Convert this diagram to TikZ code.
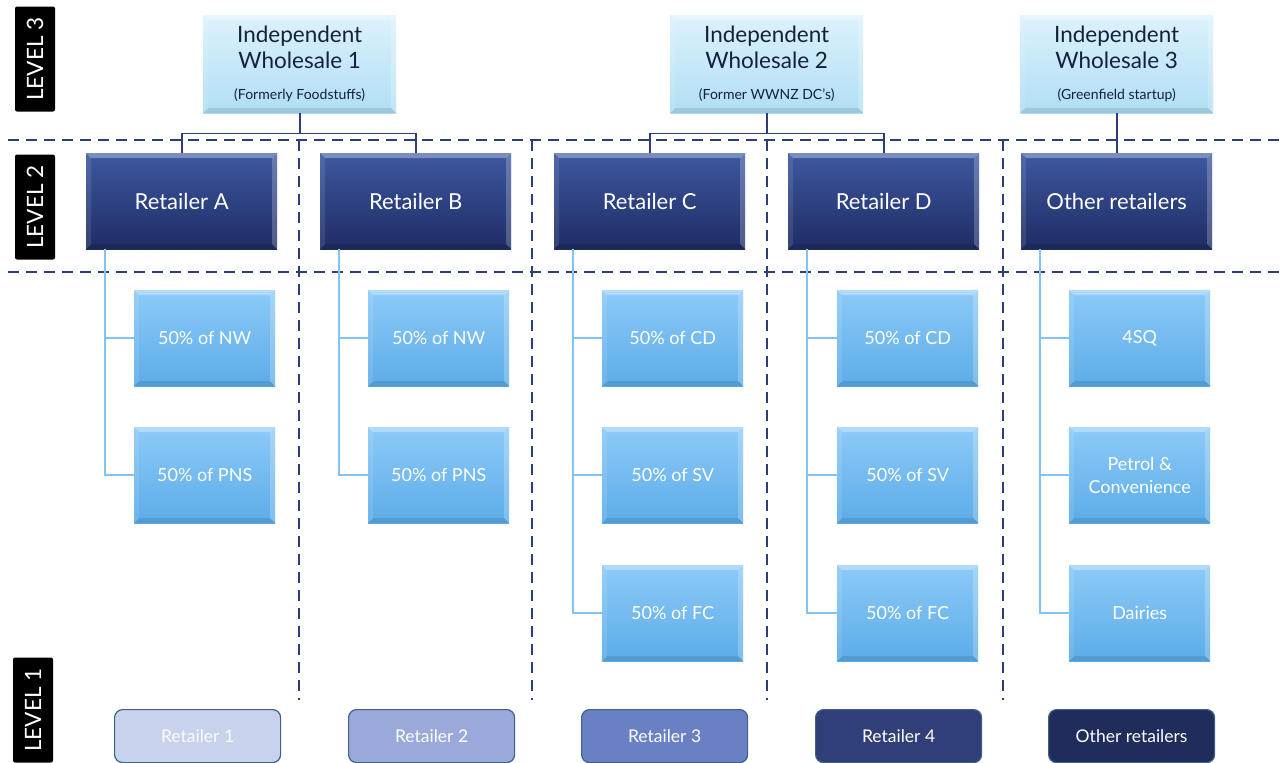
\documentclass[tikz,border=0pt]{standalone}
\usepackage{fontspec}
\setmainfont{Lato}
\definecolor{navyline}{RGB}{44,62,122}
\definecolor{skyline}{RGB}{128,196,245}
\definecolor{wsTop}{RGB}{220,242,252}
\definecolor{wsBot}{RGB}{176,222,244}
\definecolor{wsText}{RGB}{22,32,62}
\definecolor{rtTop}{RGB}{62,88,160}
\definecolor{rtBot}{RGB}{30,44,100}
\definecolor{chTop}{RGB}{140,202,248}
\definecolor{chBot}{RGB}{92,172,232}
\definecolor{lvOne}{RGB}{201,210,236}
\definecolor{lvTwo}{RGB}{154,168,218}
\definecolor{lvThree}{RGB}{106,128,197}
\definecolor{lvFour}{RGB}{48,63,119}
\definecolor{lvFive}{RGB}{32,45,92}
\definecolor{lvEdge}{RGB}{60,98,140}
\tikzset{
  bevel/.style={path picture={
    \fill[white,opacity=0.32] (path picture bounding box.north west) -- (path picture bounding box.north east)
      -- ([shift={(-5pt,-5pt)}]path picture bounding box.north east) -- ([shift={(5pt,-5pt)}]path picture bounding box.north west) -- cycle;
    \fill[white,opacity=0.22] (path picture bounding box.north east) -- (path picture bounding box.south east)
      -- ([shift={(-5pt,5pt)}]path picture bounding box.south east) -- ([shift={(-5pt,-5pt)}]path picture bounding box.north east) -- cycle;
    \fill[white,opacity=0.10] (path picture bounding box.north west) -- (path picture bounding box.south west)
      -- ([shift={(5pt,5pt)}]path picture bounding box.south west) -- ([shift={(5pt,-5pt)}]path picture bounding box.north west) -- cycle;
    \fill[black,opacity=0.10] (path picture bounding box.south west) -- (path picture bounding box.south east)
      -- ([shift={(-5pt,5pt)}]path picture bounding box.south east) -- ([shift={(5pt,5pt)}]path picture bounding box.south west) -- cycle;
  }},
  wsbox/.style={bevel, anchor=north west, minimum width=193pt, minimum height=98pt, inner sep=0pt,
    top color=wsTop, bottom color=wsBot, text=wsText, align=center,
    font=\fontsize{22.5}{25.5}\selectfont},
  retbox/.style={bevel, anchor=north west, minimum width=191pt, minimum height=96pt, inner sep=0pt,
    top color=rtTop, bottom color=rtBot, text=white, font=\fontsize{22}{26}\selectfont},
  childbox/.style={bevel, anchor=north west, minimum width=141pt, minimum height=96pt, inner sep=0pt,
    top color=chTop, bottom color=chBot, text=white, align=center, font=\fontsize{18}{22.5}\selectfont},
  basebox/.style={anchor=north west, minimum width=166pt, minimum height=53pt, inner sep=0pt,
    rounded corners=8pt, draw=lvEdge, line width=1.2pt, font=\fontsize{17.5}{21}\selectfont},
  levelbox/.style={fill=black, rounded corners=2pt, rotate=90, text=white,
    minimum width=105pt, minimum height=40pt, inner sep=0pt, font=\fontsize{22.5}{26}\selectfont},
  divider/.style={draw=navyline, line width=1.6pt, dash pattern=on 11pt off 7pt},
  feed/.style={draw=navyline, line width=1.8pt},
  branch/.style={draw=skyline, line width=1.6pt},
}
\begin{document}
\begin{tikzpicture}[x=1pt,y=-1pt]
\useasboundingbox[fill=white] (0,0) rectangle (1286,763);

% level tags
\node[levelbox] (lv3) at (35,59) {LEVEL 3};
\node[levelbox] (lv2) at (35,207) {LEVEL 2};
\node[levelbox] (lv1) at (33,710) {LEVEL 1};

% dashed band dividers
\coordinate (hA1) at (8,140);   \coordinate (hA2) at (1286,140);
\coordinate (hB1) at (8,272);   \coordinate (hB2) at (1286,272);
\draw[divider] (hA1) -- (hA2);
\draw[divider] (hB1) -- (hB2);
\foreach \vx/\nm in {299/v1,532/v2,767/v3,1003/v4}{
  \coordinate (\nm t) at (\vx,140);
  \coordinate (\nm b) at (\vx,700);
  \draw[divider] (\nm t) -- (\nm b);
}

% wholesalers
\node[wsbox] (ws1) at (203,15) {Independent\\Wholesale 1\\[6pt]{\fontsize{14}{16}\selectfont (Formerly Foodstuffs)}};
\node[wsbox] (ws2) at (670,15) {Independent\\Wholesale 2\\[6pt]{\fontsize{14}{16}\selectfont (Former WWNZ DC’s)}};
\node[wsbox] (ws3) at (1020,15) {Independent\\Wholesale 3\\[6pt]{\fontsize{14}{16}\selectfont (Greenfield startup)}};

% retailers
\node[retbox] (rA) at (86,153)   {Retailer A};
\node[retbox] (rB) at (320,153)  {Retailer B};
\node[retbox] (rC) at (554,153)  {Retailer C};
\node[retbox] (rD) at (788,153)  {Retailer D};
\node[retbox] (rO) at (1021,153) {Other retailers};

% wholesaler to retailer feeds
\draw[feed] (ws1.south) -- ++(0,20) -| (rA.north);
\draw[feed] (ws1.south) -- ++(0,20) -| (rB.north);
\draw[feed] (ws2.south) -- ++(0,20) -| (rC.north);
\draw[feed] (ws2.south) -- ++(0,20) -| (rD.north);
\draw[feed] (ws3.south) -- (ws3.south |- rO.north);

% store groups under each retailer
\node[childbox] (a1) at (134,290) {50\% of NW};
\node[childbox] (a2) at (134,427) {50\% of PNS};
\node[childbox] (b1) at (368,290) {50\% of NW};
\node[childbox] (b2) at (368,427) {50\% of PNS};
\node[childbox] (c1) at (602,290) {50\% of CD};
\node[childbox] (c2) at (602,427) {50\% of SV};
\node[childbox] (c3) at (602,565) {50\% of FC};
\node[childbox] (d1) at (837,290) {50\% of CD};
\node[childbox] (d2) at (837,427) {50\% of SV};
\node[childbox] (d3) at (837,565) {50\% of FC};
\node[childbox] (o1) at (1069,290) {4SQ};
\node[childbox] (o2) at (1069,427) {Petrol \&\\Convenience};
\node[childbox] (o3) at (1069,565) {Dairies};

% branch connectors
\foreach \rt/\kids in {rA/{a1,a2}, rB/{b1,b2}, rC/{c1,c2,c3}, rD/{d1,d2,d3}, rO/{o1,o2,o3}}{
  \foreach \k in \kids {
    \draw[branch] ([xshift=19pt]\rt.south west) |- (\k.west);
  }
}

% level 1 retail brands
\node[basebox, fill=lvOne,   text=white!92!lvOne] (L1) at (114,709)  {Retailer 1};
\node[basebox, fill=lvTwo,   text=white] (L2) at (348,709)  {Retailer 2};
\node[basebox, fill=lvThree, text=white] (L3) at (581,709)  {Retailer 3};
\node[basebox, fill=lvFour,  text=white] (L4) at (815,709)  {Retailer 4};
\node[basebox, fill=lvFive,  text=white] (L5) at (1048,709) {Other retailers};
\end{tikzpicture}
\end{document}
